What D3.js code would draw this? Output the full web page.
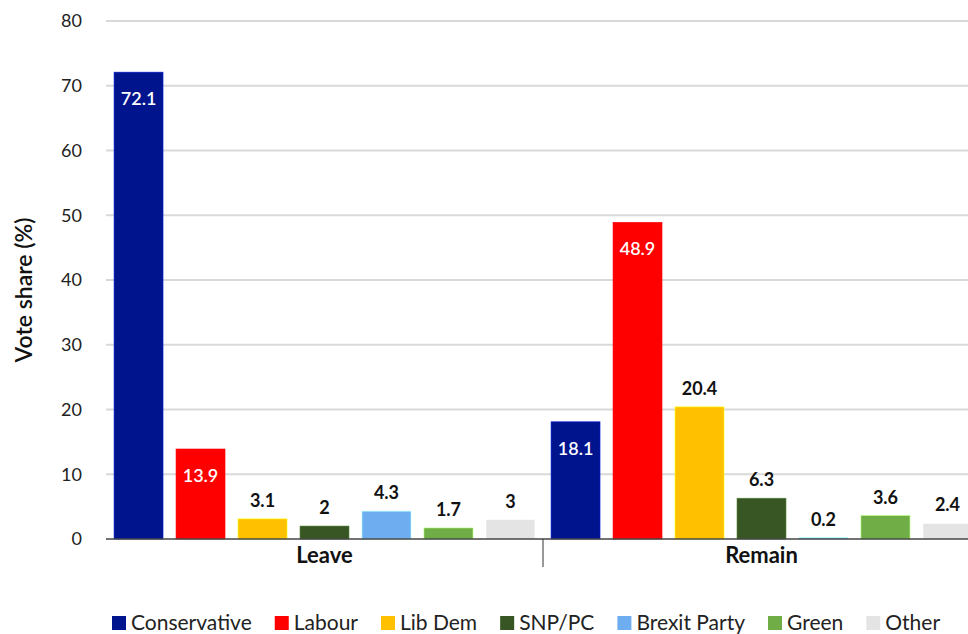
<!DOCTYPE html>
<html><head><meta charset="utf-8">
<script src="https://cdn.jsdelivr.net/npm/d3@7"></script>
<style>body{margin:0;background:#fff;} text{font-family:Lato, "Open Sans", sans-serif;}</style>
</head><body>
<svg id="c" width="968" height="634"></svg>
<script>
const groups = ["Leave", "Remain"];
const parties = ["Conservative", "Labour", "Lib Dem", "SNP/PC", "Brexit Party", "Green", "Other"];
const leaveValues = [72.1, 13.9, 3.1, 2, 4.3, 1.7, 3];
const remainValues = [18.1, 48.9, 20.4, 6.3, 0.2, 3.6, 2.4];
const colors = ["#00148E", "#FF0000", "#FFC000", "#375623", "#6FADF1", "#70AD47", "#E4E4E4"];
const insideLabel = ["Conservative", "Labour"];
const yTicks = [0, 10, 20, 30, 40, 50, 60, 70, 80];

(function () {
const svg = d3.select("#c");
const mL = 106, mR = 980, mT = 21, mB = 539;
const x0 = d3.scaleBand().domain(groups).range([mL, mR]).paddingInner(0).paddingOuter(0);
const x1 = d3.scaleBand().domain(parties).range([0, x0.bandwidth()]).paddingInner(0.21).paddingOuter(0.13);
const y = d3.scaleLinear().domain([0, 80]).range([mB, mT]);

// grid
svg.append("g").selectAll("line").data(yTicks.slice(1)).join("line")
  .attr("x1", mL).attr("x2", 968).attr("y1", d => y(d)).attr("y2", d => y(d))
  .attr("stroke", "#d9d9d9").attr("stroke-width", 2);

// y axis
const ya = svg.append("g").attr("transform", `translate(${mL},0)`)
  .call(d3.axisLeft(y).tickValues(yTicks).tickSize(0).tickPadding(24));
ya.select(".domain").remove();
ya.selectAll("text").attr("font-size", 18).attr("fill", "#222").attr("font-family", "Lato, sans-serif");

svg.append("text").attr("transform", `translate(32,${(mT + mB) / 2 + 10}) rotate(-90)`)
  .attr("text-anchor", "middle").attr("font-size", 23).attr("font-weight", 600).attr("fill", "#111")
  .text("Vote share (%)");

const data = [];
groups.forEach((g, gi) => {
  const vals = gi === 0 ? leaveValues : remainValues;
  parties.forEach((p, i) => data.push({ g, p, v: vals[i], c: colors[i] }));
});

svg.append("g").selectAll("rect").data(data).join("rect")
  .attr("x", d => x0(d.g) + x1(d.p))
  .attr("width", x1.bandwidth())
  .attr("y", d => y(d.v))
  .attr("height", d => y(0) - y(d.v))
  .attr("fill", d => d.c)
  .attr("stroke", d => d3.color(d.c).brighter(1.2))
  .attr("stroke-width", 0.6);

svg.append("g").selectAll("text").data(data).join("text")
  .attr("x", d => x0(d.g) + x1(d.p) + x1.bandwidth() / 2)
  .attr("y", d => insideLabel.includes(d.p) ? y(d.v) + 33 : y(d.v) - 12)
  .attr("text-anchor", "middle")
  .attr("font-size", 18)
  .attr("font-weight", d => insideLabel.includes(d.p) ? 600 : 700)
  .attr("fill", d => insideLabel.includes(d.p) ? "#fff" : "#111")
  .text(d => d.v);

// x axis baseline
svg.append("line").attr("x1", mL).attr("x2", 968).attr("y1", mB).attr("y2", mB)
  .attr("stroke", "#444").attr("stroke-width", 1.5);
svg.append("line").attr("x1", x0("Remain")).attr("x2", x0("Remain")).attr("y1", mB).attr("y2", mB + 28)
  .attr("stroke", "#333").attr("stroke-width", 1);
svg.append("g").selectAll("text").data(groups).join("text")
  .attr("x", d => x0(d) + x0.bandwidth() / 2).attr("y", 563)
  .attr("text-anchor", "middle").attr("font-size", 22).attr("font-weight", 700).attr("fill", "#111")
  .text(d => d);

// legend
const legend = svg.append("g").attr("transform", "translate(112,623)");
let lx = 0;
parties.forEach((p, i) => {
  const g = legend.append("g").attr("transform", `translate(${lx},0)`);
  g.append("rect").attr("x", 0).attr("y", -7).attr("width", 14).attr("height", 14).attr("fill", colors[i]);
  const t = g.append("text").attr("x", 19).attr("y", 7).attr("font-size", 21).attr("fill", "#222").text(p);
  lx += 19 + t.node().getComputedTextLength() + 23;
});
})();
</script>
</body></html>
